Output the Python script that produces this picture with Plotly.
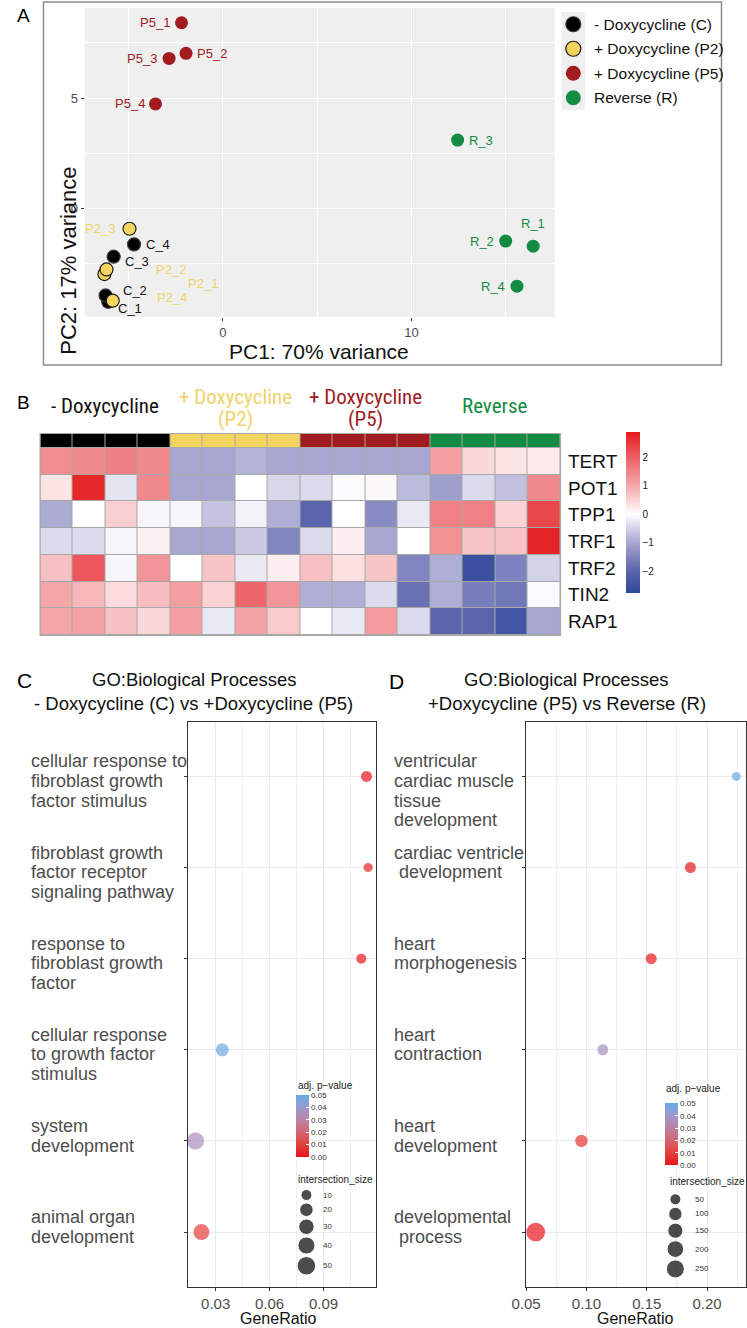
import plotly.graph_objects as go

W, H = 747, 1328
def fx(p): return p / W
def fy(p): return 1 - p / H

FONT = "Arial, 'Liberation Sans', Helvetica, sans-serif"
NARROW = "'Liberation Sans Narrow', 'Arial Narrow', 'Roboto Condensed', 'Liberation Sans', Arial, sans-serif"

# ---------------- Panel A : PCA ----------------
samples = ["C_1", "C_2", "C_3", "C_4", "P2_1", "P2_2", "P2_3", "P2_4",
           "P5_1", "P5_2", "P5_3", "P5_4", "R_1", "R_2", "R_3", "R_4"]
pc1 = [-6.09, -6.23, -5.80, -4.72, -6.29, -6.18, -4.96, -5.85,
       -2.20, -1.96, -2.86, -3.58, 16.46, 15.00, 12.45, 15.60]
pc2 = [-4.26, -3.97, -2.21, -1.65, -3.00, -2.79, -0.94, -4.21,
       8.42, 7.03, 6.80, 4.73, -1.73, -1.50, 3.09, -3.55]
sample_group = ["C"] * 4 + ["P2"] * 4 + ["P5"] * 4 + ["R"] * 4
group_keys = ["C", "P2", "P5", "R"]
group_names = ["- Doxycycline (C)", "+ Doxycycline (P2)", "+ Doxycycline (P5)", "Reverse (R)"]

# ---------------- Panel B : heatmap ----------------
genes = ["TERT", "POT1", "TPP1", "TRF1", "TRF2", "TIN2", "RAP1"]
TERT = [1.35, 1.40, 1.55, 1.40, -1.0, -1.0, -0.85, -1.0, -1.0, -1.0, -1.0, -1.0, 1.10, 0.45, 0.30, 0.25]
POT1 = [0.30, 2.70, -0.30, 1.40, -1.0, -1.0, 0.0, -0.45, -0.40, -0.05, 0.07, -0.75, -1.10, -0.40, -0.70, 1.40]
TPP1 = [-0.95, 0.0, 0.55, -0.10, -0.10, -0.65, -0.15, -0.90, -2.0, 0.0, -1.40, -0.25, 1.50, 1.50, 0.50, 2.30]
TRF1 = [-0.40, -0.40, -0.10, 0.15, -1.0, -1.0, -0.60, -1.50, -0.40, 0.20, -1.0, 0.0, 1.30, 0.65, 0.65, 2.75]
TRF2 = [0.70, 2.10, -0.10, 1.25, 0.0, 0.65, -0.25, 0.20, 0.70, 0.35, 0.65, -1.50, -0.90, -2.55, -1.55, -0.50]
TIN2 = [1.00, 0.80, 0.40, 0.75, 1.10, 0.50, 1.90, 1.25, -0.90, -0.90, -0.40, -1.80, -0.90, -1.60, -1.70, -0.05]
RAP1 = [1.00, 1.05, 0.70, 0.45, 1.10, -0.25, 1.05, 0.60, 0.0, -0.25, 1.15, -0.40, -2.0, -2.0, -2.40, -1.0]
heat_z = [TERT, POT1, TPP1, TRF1, TRF2, TIN2, RAP1]
heat_groups = ["- Doxycycline", "+ Doxycycline\n(P2)", "+ Doxycycline\n(P5)", "Reverse"]
heat_ticks = [-2, -1, 0, 1, 2]

# ---------------- Panel C ----------------
c_labels = ["cellular response to\nfibroblast growth\nfactor stimulus",
            "fibroblast growth\nfactor receptor\nsignaling pathway",
            "response to\nfibroblast growth\nfactor",
            "cellular response\nto growth factor\nstimulus",
            "system\ndevelopment",
            "animal organ\ndevelopment"]
c_ratio = [0.1139, 0.1148, 0.1110, 0.0337, 0.0188, 0.0221]
c_padj = [0.0005, 0.004, 0.0005, 0.048, 0.036, 0.009]
c_size = [10, 5, 7, 18, 40, 33]
c_size_legend = [10, 20, 30, 40, 50]

# ---------------- Panel D ----------------
d_labels = ["ventricular\ncardiac muscle\ntissue\ndevelopment",
            "cardiac ventricle\n\u00a0development",
            "heart\nmorphogenesis",
            "heart\ncontraction",
            "heart\ndevelopment",
            "developmental\n\u00a0process"]
d_ratio = [0.2242, 0.1862, 0.1537, 0.1136, 0.0959, 0.0580]
d_padj = [0.049, 0.001, 0.001, 0.036, 0.007, 0.0002]
d_size = [21, 50, 50, 50, 80, 279]
d_size_legend = [50, 100, 150, 200, 250]
p_ticks = [0.0, 0.01, 0.02, 0.03, 0.04, 0.05]

# ---------------- styles ----------------
fill = {"C": "#000000", "P2": "#F2D45E", "P5": "#A11B1F", "R": "#138B43"}
edge = {"C": "#3A3A3A", "P2": "#1A1A1A", "P5": "#A11B1F", "R": "#138B43"}
edge_w = {"C": 1.2, "P2": 1.2, "P5": 0, "R": 0}
txtcol = {"C": "#111111", "P2": "#F0D36A", "P5": "#A11B1F", "R": "#138B43"}
label_off = {"C_1": (22, 7), "C_2": (29, -5), "C_3": (23, 5), "C_4": (24, 0),
             "P2_1": (99, 9), "P2_2": (64, 0), "P2_3": (-30, 0), "P2_4": (59, -3),
             "P5_1": (-27, 0), "P5_2": (26, 0), "P5_3": (-27, 0), "P5_4": (-26, 0),
             "R_1": (0, -23), "R_2": (-24, 0), "R_3": (23, 0), "R_4": (-24, 0)}

hz_min, hz_max = -2.77, 2.88
heat_stops = [(-2.77, "#2E4A9B"), (-2.0, "#5A64AC"), (-1.0, "#A6A6D1"), (0.0, "#FFFFFF"),
              (1.0, "#F4A6A9"), (2.0, "#EC5F64"), (2.88, "#E41A1C")]
heat_cs = [[(v - hz_min) / (hz_max - hz_min), c] for v, c in heat_stops]
p_cs = [[0, "#E8141B"], [0.2, "#E2413C"], [0.4, "#D46570"], [0.6, "#BB82A5"],
        [0.8, "#9C9ACC"], [1, "#62ACE8"]]

def size_c(s): return 4.93 + 1.92 * s ** 0.5
def size_d(s): return 5.34 + 0.80 * s ** 0.5

fig = go.Figure()
shapes, ann = [], []

def text(x, y, s, size, color="#000000", xanchor="center", family=FONT, xref="paper", yref="paper", yshift=0, xshift=0):
    ann.append(dict(x=x, y=y, xref=xref, yref=yref, text=s, showarrow=False, xanchor=xanchor,
                    yanchor="middle", font=dict(size=size, color=color, family=family),
                    yshift=yshift, xshift=xshift))

# ===== Panel A =====
shapes.append(dict(type="rect", xref="paper", yref="paper", x0=fx(72), x1=fx(551), y0=fy(317), y1=fy(8),
                   fillcolor="#EFEFEF", line=dict(width=0), layer="below"))
shapes.append(dict(type="rect", xref="paper", yref="paper", x0=fx(30), x1=fx(721), y0=fy(365), y1=fy(2),
                   fillcolor="rgba(0,0,0,0)", line=dict(color="#8C8C8C", width=1.5), layer="above"))
for g in group_keys:
    idx = [i for i, s in enumerate(sample_group) if s == g]
    fig.add_trace(go.Scatter(x=[pc1[i] for i in idx], y=[pc2[i] for i in idx], mode="markers",
                             marker=dict(size=13, color=fill[g], line=dict(color=edge[g], width=edge_w[g])),
                             xaxis="x", yaxis="y", showlegend=False, hoverinfo="skip"))
for i, s in enumerate(samples):
    dx, dy = label_off[s]
    text(pc1[i], pc2[i], s, 13, txtcol[sample_group[i]], xref="x", yref="y", xshift=dx, yshift=-dy)
# legend (keys)
shapes.append(dict(type="rect", xref="paper", yref="paper", x0=fx(558), x1=fx(582), y0=fy(110), y1=fy(12),
                   fillcolor="#EFEFEF", line=dict(width=0), layer="below"))
for k, g in enumerate(group_keys):
    fig.add_trace(go.Scatter(x=[0], y=[k], mode="markers", xaxis="x6", yaxis="y6",
                             marker=dict(size=15, color=fill[g], line=dict(color=edge[g], width=edge_w[g])),
                             showlegend=False, hoverinfo="skip"))
    text(fx(589), k, group_names[k], 15.5, "#111111", xanchor="left", yref="y6")
text(fx(10), fy(15), "A", 19)
ann.append(dict(x=fx(40), y=fy(165), xref="paper", yref="paper", text="PC2: 17% variance", showarrow=False,
                textangle=-90, font=dict(size=22, color="#111111", family=FONT)))
text(fx(311), fy(352), "PC1: 70% variance", 21, "#111111")

# ===== Panel B =====
shapes.append(dict(type="rect", xref="paper", yref="paper", x0=fx(26), x1=fx(557.5), y0=fy(636), y1=fy(433),
                   fillcolor="#A8A8A8", line=dict(width=0), layer="below"))
xs = list(range(len(samples)))
fig.add_trace(go.Heatmap(z=heat_z, x=xs, y=list(range(len(genes))), xaxis="x2", yaxis="y2",
                         colorscale=heat_cs, zmin=hz_min, zmax=hz_max, xgap=1, ygap=1, hoverinfo="skip",
                         colorbar=dict(x=fx(624), xanchor="left", y=fy(432), yanchor="top", len=161,
                                       lenmode="pixels", thickness=14, xpad=0, ypad=0, outlinewidth=0,
                                       tickvals=heat_ticks, ticks="", tickfont=dict(size=10, color="#222222", family=FONT))))
grp_idx = [group_keys.index(g) for g in sample_group]
bar_cs = [[0, fill["C"]], [1 / 6, fill["C"]], [1 / 6, fill["P2"]], [0.5, fill["P2"]],
          [0.5, fill["P5"]], [5 / 6, fill["P5"]], [5 / 6, fill["R"]], [1, fill["R"]]]
fig.add_trace(go.Heatmap(z=[grp_idx], x=xs, y=[0], xaxis="x3", yaxis="y3", colorscale=bar_cs,
                         zmin=0, zmax=3, xgap=1, showscale=False, hoverinfo="skip"))
for r, gname in enumerate(genes):
    text(fx(563), r, gname, 19, "#111111", xanchor="left", yref="y2")
gcols = ["#111111", "#F0D36A", "#A11B1F", "#138B43"]
for k, lab in enumerate(heat_groups):
    cols = [i for i, g in enumerate(grp_idx) if g == k]
    cx = sum(cols) / len(cols)
    lines = lab.split("\n")
    if len(lines) == 1:
        text(cx, fy(406), lines[0], 21, gcols[k], xref="x3", family=NARROW)
    else:
        text(cx, fy(397), lines[0], 21, gcols[k], xref="x3", family=NARROW)
        text(cx, fy(419), lines[1], 21, gcols[k], xref="x3", family=NARROW)
text(fx(10), fy(402), "B", 19)

# ===== Panels C and D =====
def go_panel(labels, ratio, padj, size, sfun, xa, ya, label_x, cb_x, cb_y, leg_xa, leg_ya,
             leg_vals, leg_label_x, cb_title_xy, size_title_xy, title_lines, title_cx, letter_xy, letter, gr_x):
    terms = [l.replace("\n", " ").replace("\u00a0", "") for l in labels]
    fig.add_trace(go.Scatter(x=ratio, y=terms, mode="markers", xaxis=xa, yaxis=ya, showlegend=False,
                             hoverinfo="skip",
                             marker=dict(size=[sfun(s) for s in size], color=padj, colorscale=p_cs,
                                         cmin=0, cmax=0.05, showscale=True, line=dict(width=0),
                                         colorbar=dict(x=fx(cb_x), xanchor="left", y=fy(cb_y), yanchor="top",
                                                       len=62, lenmode="pixels", thickness=13, xpad=0, ypad=0,
                                                       outlinewidth=0, tickvals=p_ticks, tickformat=".2f",
                                                       ticks="inside", ticklen=3, tickcolor="white",
                                                       tickfont=dict(size=8, color="#333333", family=FONT)))))
    for t, lab in zip(terms, labels):
        for j, line in enumerate(lab.split("\n")):
            text(fx(label_x), t, line, 18, "#4D4D4D", xanchor="left", yref=ya, yshift=15 - j * 19.7)
    # size legend
    ds = [sfun(v) for v in leg_vals]
    centers, acc = [], 0.0
    for d in ds:
        centers.append(acc + d / 2)
        acc += d + 2.5
    fig.add_trace(go.Scatter(x=[0] * len(leg_vals), y=centers, mode="markers", xaxis=leg_xa, yaxis=leg_ya,
                             marker=dict(size=ds, color="#000000"), showlegend=False, hoverinfo="skip"))
    for v, c in zip(leg_vals, centers):
        text(fx(leg_label_x), c, str(v), 8, "#333333", xanchor="left", yref=leg_ya)
    text(fx(cb_title_xy[0]), fy(cb_title_xy[1]), "adj. p\u2212value", 10, "#222222", xanchor="left")
    text(fx(size_title_xy[0]), fy(size_title_xy[1]), "intersection_size", 10, "#222222", xanchor="left")
    text(fx(title_cx[0]), fy(679), title_lines[0], 18.5, "#111111")
    text(fx(title_cx[1]), fy(703), title_lines[1], 18.5, "#111111")
    text(fx(letter_xy[0]), fy(letter_xy[1]), letter, 21)
    text(fx(gr_x), fy(1318), "GeneRatio", 16, "#111111")
    return terms

c_terms = go_panel(c_labels, c_ratio, c_padj, c_size, size_c, "x4", "y4", 15, 287, 1095, "x7", "y7",
                   c_size_legend, 313, (287, 1085), (287, 1179),
                   ["GO:Biological Processes", "- Doxycycline (C) vs +Doxycycline (P5)"], (183.5, 183),
                   (11, 680), "C", 270)
d_terms = go_panel(d_labels, d_ratio, d_padj, d_size, size_d, "x5", "y5", 385, 663.3, 1103.3, "x8", "y8",
                   d_size_legend, 691.7, (662.3, 1088), (666, 1181.7),
                   ["GO:Biological Processes", "+Doxycycline (P5) vs Reverse (R)"], (563, 564),
                   (390, 682), "D", 633.5)

def panel_x(dom, rng, dtick, minor):
    return dict(domain=dom, range=rng, dtick=dtick, tick0=0, tickformat=".2f", showgrid=True,
                gridcolor="#EBEBEB", gridwidth=1.3,
                minor=dict(dtick=minor, tick0=0, showgrid=True, gridcolor="#EFEFEF", gridwidth=0.9),
                zeroline=False, ticks="outside", ticklen=3, tickcolor="#333333",
                tickfont=dict(size=15, color="#4D4D4D", family=FONT),
                showline=True, mirror=True, linecolor="#333333", linewidth=1)

def panel_y(dom, terms):
    return dict(domain=dom, type="category", categoryorder="array", categoryarray=terms,
                range=[len(terms) - 0.4, -0.6], showgrid=True, gridcolor="#EBEBEB", gridwidth=1.3,
                zeroline=False, ticks="outside", ticklen=3, tickcolor="#333333", showticklabels=False,
                showline=True, mirror=True, linecolor="#333333", linewidth=1)

hidden = dict(visible=False, showgrid=False, zeroline=False)
fig.update_layout(
    width=W, height=H, autosize=False, margin=dict(l=0, r=0, t=0, b=0),
    paper_bgcolor="white", plot_bgcolor="rgba(0,0,0,0)", font=dict(family=FONT),
    showlegend=False, shapes=shapes, annotations=ann,
    xaxis=dict(domain=[fx(72), fx(551)], range=[-7.34, 17.6], anchor="y", dtick=10, tick0=0,
               showgrid=True, gridcolor="white", gridwidth=1.3,
               minor=dict(dtick=5, tick0=0, showgrid=True, gridcolor="white", gridwidth=0.6),
               zeroline=False, ticks="outside", ticklen=3, tickcolor="#333333",
               tickfont=dict(size=13, color="#4D4D4D", family=FONT), showline=False),
    yaxis=dict(domain=[fy(317), fy(8)], range=[-4.95, 9.09], anchor="x", dtick=5, tick0=0,
               showgrid=True, gridcolor="white", gridwidth=1.3,
               minor=dict(dtick=2.5, tick0=0, showgrid=True, gridcolor="white", gridwidth=0.6),
               zeroline=False, ticks="outside", ticklen=3, tickcolor="#333333",
               tickfont=dict(size=13, color="#4D4D4D", family=FONT), showline=False),
    xaxis2=dict(domain=[fx(27), fx(556.5)], range=[-0.5, 15.5], anchor="y2", **hidden),
    yaxis2=dict(domain=[fy(635), fy(448)], range=[6.5, -0.5], anchor="x2", **hidden),
    xaxis3=dict(domain=[fx(27), fx(556.5)], range=[-0.5, 15.5], anchor="y3", **hidden),
    yaxis3=dict(domain=[fy(447), fy(434)], range=[0.5, -0.5], anchor="x3", **hidden),
    xaxis4=dict(anchor="y4", **panel_x([fx(177), fx(369.3)], [0.01445, 0.1194], 0.03, 0.015)),
    yaxis4=dict(anchor="x4", **panel_y([fy(1286.7), fy(721.7)], c_terms)),
    xaxis5=dict(anchor="y5", **panel_x([fx(521.7), fx(745.7)], [0.0499, 0.232], 0.05, 0.025)),
    yaxis5=dict(anchor="x5", **panel_y([fy(1286.7), fy(721.7)], d_terms)),
    xaxis6=dict(domain=[fx(558), fx(582)], range=[-1, 1], anchor="y6", **hidden),
    yaxis6=dict(domain=[fy(110), fy(12)], range=[3.5, -0.5], anchor="x6", **hidden),
    xaxis7=dict(domain=[fx(288), fx(308)], range=[-1, 1], anchor="y7", **hidden),
    yaxis7=dict(domain=[fy(1189.5 + 95), fy(1189.5)], range=[95, 0], anchor="x7", **hidden),
    xaxis8=dict(domain=[fx(664), fx(684)], range=[-1, 1], anchor="y8", **hidden),
    yaxis8=dict(domain=[fy(1193.8 + 95), fy(1193.8)], range=[95, 0], anchor="x8", **hidden),
)

fig.write_html("out.html", config={"displayModeBar": False},
               post_script="document.body.style.margin='0px';document.body.style.overflow='hidden';")
